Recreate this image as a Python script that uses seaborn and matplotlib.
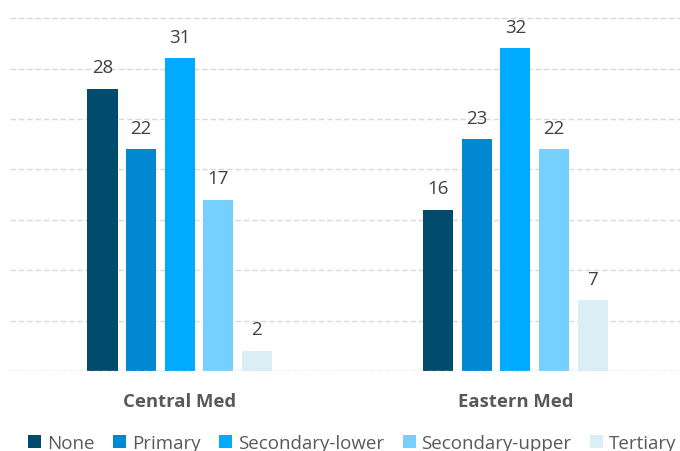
import matplotlib
matplotlib.use("Agg")
import matplotlib.pyplot as plt
import seaborn as sns
import pandas as pd

# Education level of arrivals by route (%)
routes = ["Central Med", "Eastern Med"]
levels = ["None", "Primary", "Secondary-lower", "Secondary-upper", "Tertiary"]
central_med = [28, 22, 31, 17, 2]
eastern_med = [16, 23, 32, 22, 7]
colors = ["#004B6E", "#0088D1", "#00AAFF", "#75D0FF", "#D9EEF5"]

rows = []
for route, vals in zip(routes, [central_med, eastern_med]):
    for lvl, v in zip(levels, vals):
        rows.append({"route": route, "level": lvl, "value": v})
df = pd.DataFrame(rows)

sns.set_theme(style="white")
plt.rcParams["font.family"] = ["Open Sans", "DejaVu Sans"]

fig = plt.figure(figsize=(6.8, 4.52), dpi=100)
ax = fig.add_axes([0.0147, 0.177, 0.9853, 0.823])

sns.barplot(data=df, x="route", y="value", hue="level", hue_order=levels,
            palette=colors, width=0.574, gap=0.22, saturation=1,
            edgecolor="none", linewidth=0, ax=ax, legend=True, zorder=2)

ax.set_ylim(0, 36.9)
ax.set_xlim(-0.505, 1.49)
ax.set_yticks([0, 5, 10, 15, 20, 25, 30, 35])
ax.yaxis.grid(True, color="#D9D9D9", linestyle=(0, (4, 2)), linewidth=1)
ax.set_axisbelow(True)
ax.axhline(0, color="#D9D9D9", linestyle=(0, (4, 2)), linewidth=1, zorder=3)
ax.tick_params(axis="y", left=False, labelleft=False)
ax.tick_params(axis="x", bottom=False, pad=9)
for lab in ax.get_xticklabels():
    lab.set_fontweight("bold")
    lab.set_fontsize(13.3)
    lab.set_color("#595959")
ax.set_xlabel("")
ax.set_ylabel("")
for s in ax.spines.values():
    s.set_visible(False)

for cont in ax.containers:
    ax.bar_label(cont, fmt="%d", padding=9, fontsize=13.4, color="#404040")

handles, labels = ax.get_legend_handles_labels()
ax.get_legend().remove()
fig.legend(handles, labels, loc="center", bbox_to_anchor=(0.518, 0.018),
           ncol=5, frameon=False, fontsize=13.5, labelcolor="#595959",
           handlelength=0.7, handleheight=0.7, handletextpad=0.3,
           columnspacing=1.0, borderaxespad=0)

fig.savefig("out.png", dpi=100)
